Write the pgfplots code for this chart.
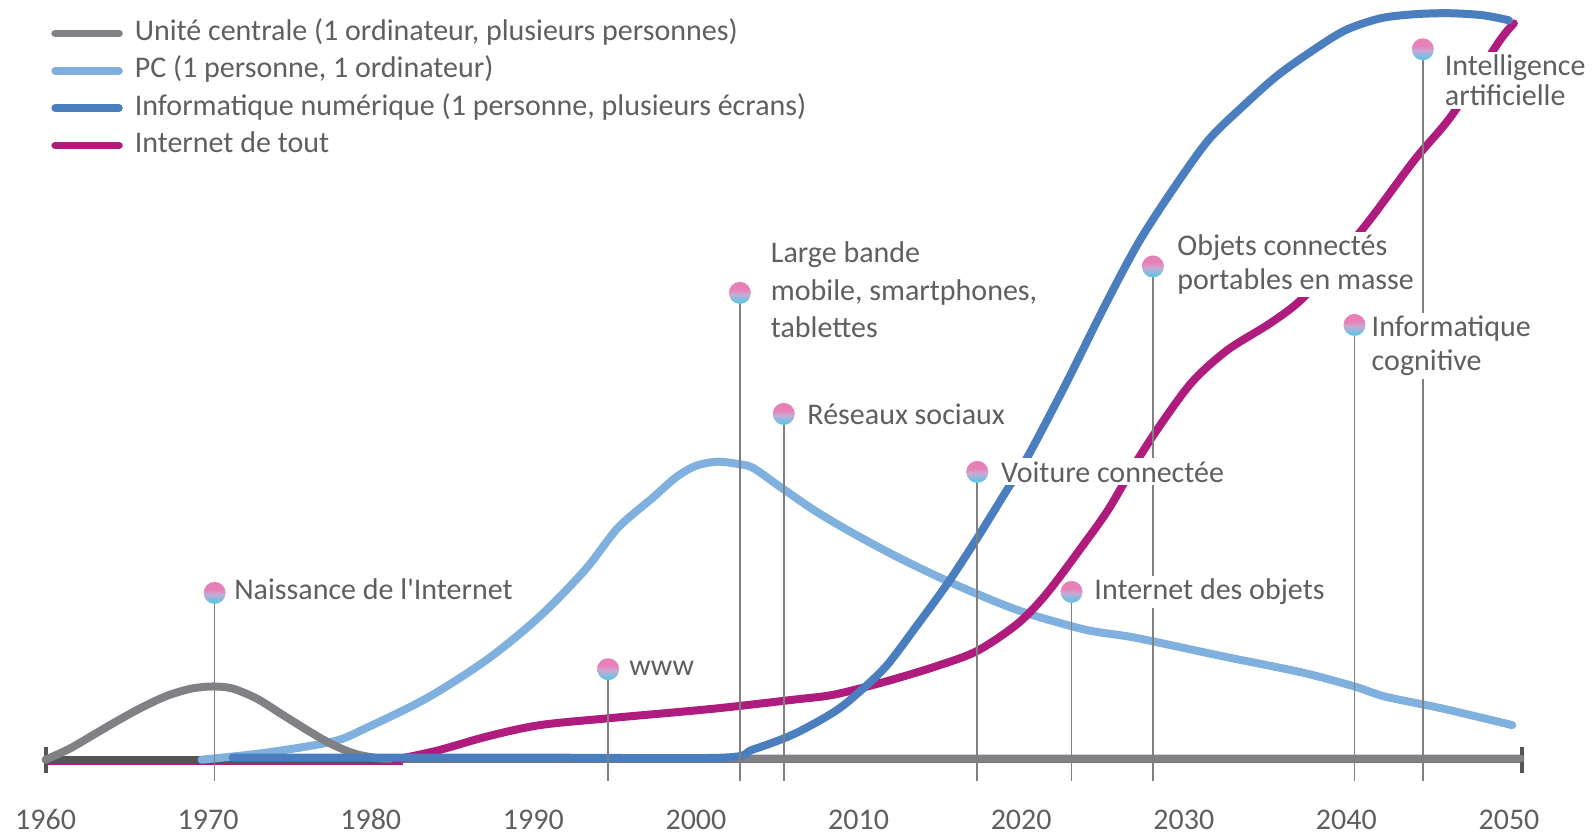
\documentclass[border=0pt]{standalone}
\usepackage{pgfplots}
\pgfplotsset{compat=1.18}
\usepackage{fontspec}
\setmainfont{Carlito}
\definecolor{cgray}{RGB}{128,129,133}
\definecolor{clight}{RGB}{127,176,222}
\definecolor{cblue}{RGB}{74,126,190}
\definecolor{cmag}{RGB}{176,27,126}
\definecolor{caxis}{RGB}{85,85,85}
\definecolor{cstem}{RGB}{128,128,128}
\definecolor{ctext}{RGB}{95,95,95}
\definecolor{dotpink}{RGB}{232,128,184}
\definecolor{dotlav}{RGB}{200,170,212}
\definecolor{dotblue}{RGB}{100,196,228}
\pgfdeclareverticalshading{ballshade}{100bp}{color(0bp)=(dotblue); color(31bp)=(dotblue); color(47bp)=(dotlav); color(58bp)=(dotpink); color(100bp)=(dotpink)}
\pgfdeclareplotmark{gball}{\pgfpathcircle{\pgfpointorigin}{\pgfplotmarksize}\pgfshadepath{ballshade}{0}\pgfusepath{discard}}
\newcommand\lbl{\fontsize{15}{18}\selectfont}

\pgfplotstableread{
x y
1960 0
1961.5 11
1963 25
1964.5 39
1966 52
1967.5 63
1969 70
1970.3 72
1971.5 70
1973 60
1974.5 45
1976 30
1977.5 16
1979 6
1980.5 1.5
1982 1
1990 1
2050.7 1
}\tgray
\pgfplotstableread{
x y
1969.6 0
1973.6 7
1977.7 18
1979.7 31
1983.5 61
1987.2 99
1990.4 141
1993.2 187
1995.2 228
1997.3 257
1998.8 278
2000.0 289
2001.3 293
2002.5 291
2003.5 287
2005.2 268
2007.3 245
2009.4 225
2012.3 200
2015.7 174
2019.8 147
2023.9 128
2027.0 120
2032.3 102
2037.2 86
2040.5 72
2042.4 62
2046.0 50
2050.2 34
}\tlight
\pgfplotstableread{
x y
1971.5 2
1990 2
2001.6 2
2003.5 10
2006.0 25
2008.5 47
2010.0 66
2011.7 92
2013.5 130
2015.5 174
2017.3 218
2019.0 262
2020.4 298
2022.7 368
2025.1 445
2027.2 508
2029.3 560
2031.5 609
2033.6 642
2035.7 672
2037.8 696
2039.9 717
2042.1 729
2044.2 733
2046.3 734
2048.4 732
2050.0 727
}\tblue
\pgfplotstableread{
x y
1981.5 0
1984.1 9
1987.2 23
1990.4 34
1994.8 41
2001.0 50
2006.0 59
2008.5 64
2011.7 77
2014.8 92
2017.3 107
2019.8 134
2021.6 164
2023.9 213
2025.4 247
2027.2 296
2028.9 337
2030.6 373
2032.7 403
2035.3 429
2037.2 452
2039.4 491
2041.5 532
2044.2 590
2046.5 634
2049.3 704
2050.3 724
}\tmag
\pgfplotstableread{
x y
1970.4 164
1994.6 89
2002.7 459
2005.4 340
2017.3 283
2023.1 165
2028.1 485
2040.5 427.5
2044.7 698.5
}\tdots

\begin{document}
\begin{tikzpicture}
\begin{axis}[
  scale only axis, width=797.5pt, height=419pt,
  xmin=1957.20, xmax=2055.29, ymin=-77, ymax=747,
  hide axis, clip=false,
  legend cell align=left,
  legend style={at={(axis cs:1960.36,729)}, anchor=north west, draw=none, fill=none,
    inner sep=0pt, outer sep=0pt, row sep=3.7pt, column sep=6pt,
    font=\lbl, text=ctext, nodes={inner sep=0pt, text height=11pt, text depth=4pt}},
  legend image code/.code={\draw[#1, line width=3.8pt, line cap=round] (1.9pt,0pt) -- (33.8pt,0pt);},
  curve/.style={line width=4pt, line cap=round, line join=round, smooth},
]
\path (rel axis cs:0,0) rectangle (rel axis cs:1,1);
\addlegendimage{cgray}
\addlegendentry{Unité centrale (1 ordinateur, plusieurs personnes)}
\addlegendimage{clight}
\addlegendentry{PC (1 personne, 1 ordinateur)}
\addlegendimage{cblue}
\addlegendentry{Informatique numérique (1 personne, plusieurs écrans)}
\addlegendimage{cmag}
\addlegendentry{Internet de tout}

% hidden flat start of the Internet series under the axis
\addplot[cmag, line width=3.6pt, forget plot] coordinates {(1960,-1.8) (1982,-1.8)};
% axis line and end ticks
\addplot[caxis, line width=3.5pt, forget plot] coordinates {(1960,0) (2050.8,0)};
\addplot[caxis, line width=2pt, forget plot] coordinates {(1960,-12.8) (1960,12.8)};
\addplot[caxis, line width=2pt, forget plot] coordinates {(2050.8,-12.8) (2050.8,12.8)};

\addplot[curve, clight, forget plot] table[x=x,y=y] {\tlight};
\addplot[curve, cgray, forget plot] table[x=x,y=y] {\tgray};
\addplot[curve, cmag, forget plot] table[x=x,y=y] {\tmag};
\addplot[curve, cblue, forget plot] table[x=x,y=y] {\tblue};

% stems
\addplot[cstem, line width=0.8pt, forget plot] coordinates {(1970.4,-21) (1970.4,164)};
\addplot[cstem, line width=0.8pt, forget plot] coordinates {(1994.6,-21) (1994.6,89)};
\addplot[cstem, line width=0.8pt, forget plot] coordinates {(2002.7,-21) (2002.7,459)};
\addplot[cstem, line width=0.8pt, forget plot] coordinates {(2005.4,-21) (2005.4,340)};
\addplot[cstem, line width=0.8pt, forget plot] coordinates {(2017.3,-21) (2017.3,283)};
\addplot[cstem, line width=0.8pt, forget plot] coordinates {(2023.1,-21) (2023.1,165)};
\addplot[cstem, line width=0.8pt, forget plot] coordinates {(2028.1,-21) (2028.1,485)};
\addplot[cstem, line width=0.8pt, forget plot] coordinates {(2040.5,-21) (2040.5,427.5)};
\addplot[cstem, line width=0.8pt, forget plot] coordinates {(2044.7,-21) (2044.7,698.5)};

% labels
\tikzset{lab/.style={anchor=west, align=left, fill=white, inner sep=1.5pt, text=ctext}}
\node[lab, font=\lbl] at (axis cs:1971.4,168) {Naissance de l\textquotesingle Internet};
\node[lab, font=\lbl] at (axis cs:1995.7,90) {www};
\node[lab, font=\fontsize{15}{18.6}\selectfont] at (axis cs:2004.4,462) {Large bande\\mobile, smartphones,\\tablettes};
\node[lab, font=\lbl] at (axis cs:2006.65,340) {Réseaux sociaux};
\node[lab, font=\lbl] at (axis cs:2018.55,283) {Voiture connectée};
\node[lab, font=\lbl] at (axis cs:2024.3,165) {Internet des objets};
\node[lab, font=\fontsize{15}{16.8}\selectfont] at (axis cs:2029.4,487) {Objets connectés\\portables en masse};
\node[lab, font=\fontsize{15}{16.8}\selectfont] at (axis cs:2041.35,407) {Informatique\\cognitive};
\node[lab, font=\fontsize{15}{15.3}\selectfont] at (axis cs:2045.85,668) {Intelligence\\artificielle};

% dots
\addplot[only marks, mark=gball, mark size=5.5pt, forget plot] table[x=x,y=y] {\tdots};

% year labels
\pgfplotsinvokeforeach{1960,1970,...,2050}{
  \node[font=\lbl, text=ctext] at (axis cs:#1,-59) {#1};
}
\end{axis}
\end{tikzpicture}
\end{document}
